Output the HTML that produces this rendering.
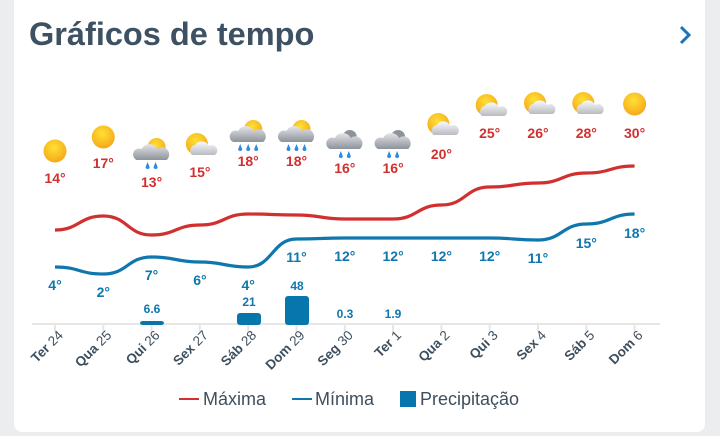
<!DOCTYPE html>
<html><head><meta charset="utf-8"><style>
html,body{margin:0;padding:0;background:#ebedef;width:720px;height:436px;overflow:hidden;font-family:"Liberation Sans",sans-serif}
.card{position:absolute;left:14px;top:-10px;width:691px;height:442px;background:#fff;border-radius:8px}
svg{position:absolute;left:0;top:0}
</style></head><body>
<div class="card"></div>
<svg width="720" height="436" xmlns="http://www.w3.org/2000/svg">
<defs>
<radialGradient id="sun" cx="45%" cy="35%" r="65%"><stop offset="0" stop-color="#ffe034"/><stop offset="1" stop-color="#f5a91a"/></radialGradient>
<linearGradient id="cl" x1="0" y1="0" x2="0" y2="1"><stop offset="0" stop-color="#fafafa"/><stop offset="1" stop-color="#b9bcc2"/></linearGradient>
<linearGradient id="dc" x1="0" y1="0" x2="0" y2="1"><stop offset="0" stop-color="#e4e5e8"/><stop offset="1" stop-color="#8e939b"/></linearGradient>
</defs>
<text x="29" y="45" font-size="32.5" font-weight="bold" fill="#3d5163">Gráficos de tempo</text>
<path d="M681 27 L689 35 L681 43" stroke="#1b74b8" stroke-width="3" fill="none"/>
<g id="icons"></g>
<line x1="32" y1="324" x2="660" y2="324" stroke="#e6e6e6" stroke-width="2"/>
<g id="ticks"></g>
<path id="maxp" stroke="#d22f2f" stroke-width="3.2" fill="none"/>
<path id="minp" stroke="#0f77ad" stroke-width="3.2" fill="none"/>
<g font-size="13" font-weight="bold" fill="#0f77ad" text-anchor="middle">
<rect x="140" y="321" width="24" height="4" rx="3" fill="#0676ad"/>
<rect x="237" y="313" width="24" height="12" rx="3" fill="#0676ad"/>
<rect x="285" y="296" width="24" height="29" rx="3" fill="#0676ad"/>
<text x="152" y="313" font-size="12">6.6</text>
<text x="249" y="306" font-size="12">21</text>
<text x="297" y="290" font-size="12">48</text>
<text x="345" y="318" font-size="12">0.3</text>
<text x="393" y="318" font-size="12">1.9</text>
</g>
<g id="lbl" font-size="14" font-weight="bold" text-anchor="middle"></g>
<g font-size="18" fill="#3d4f5f">
<line x1="179" y1="399" x2="199" y2="399" stroke="#d22f2f" stroke-width="2"/>
<text x="203" y="405">Máxima</text>
<line x1="292" y1="399" x2="312" y2="399" stroke="#0f77ad" stroke-width="2"/>
<text x="315" y="405">Mínima</text>
<rect x="400" y="391" width="16" height="16" fill="#0676ad"/>
<text x="420" y="405">Precipitação</text>
</g>
</svg>
<script>
const X=i=>55+i*48.3;
const days=["Ter 24","Qua 25","Qui 26","Sex 27","Sáb 28","Dom 29","Seg 30","Ter 1","Qua 2","Qui 3","Sex 4","Sáb 5","Dom 6"];
const maxY=[230,216,235,225,214,215,219,219,205,187,183,173,166];
const minY=[267,274,257,262,267,239,238,238,238,238,240,224,214];
const maxT=[14,17,13,15,18,18,16,16,20,25,26,28,30];
const maxL=[183,168,187,177,166,166,173,173,159,138,138,138,138];
const minT=[4,2,7,6,4,11,12,12,12,12,11,15,18];
const minL=[290,297,280,285,290,262,261,261,261,261,263,248,238];
const icon=["s","s","r","p","R","R","c","c","p","p","p","p","s"];
const iy=[151,137,153,146,135,135,142,142,126,107,105,105,104];
function path(ys){let d=`M${X(0)} ${ys[0]}`;for(let i=0;i<ys.length-1;i++){const a=X(i),b=X(i+1),m=(b-a)/2;d+=` C${a+m} ${ys[i]} ${b-m} ${ys[i+1]} ${b} ${ys[i+1]}`}return d}
document.getElementById('maxp').setAttribute('d',path(maxY));
document.getElementById('minp').setAttribute('d',path(minY));
let t='',l='',ic='';
days.forEach((d,i)=>{const x=X(i);const [a,b]=d.split(' ');
t+=`<line x1="${x}" y1="324" x2="${x}" y2="332" stroke="#e6e6e6" stroke-width="2"/>`;
t+=`<text transform="translate(${x+9},${336}) rotate(-45)" text-anchor="end" font-size="13.5" fill="#3d4f5f"><tspan font-weight="bold">${a}</tspan> ${b}</text>`;
l+=`<text x="${x}" y="${maxL[i]}" fill="#d22f2f">${maxT[i]}°</text><text x="${x}" y="${minL[i]}" fill="#0f77ad">${minT[i]}°</text>`;
const y=iy[i],k=icon[i];
if(k=="s")ic+=`<circle cx="${x}" cy="${y}" r="11.5" fill="url(#sun)"/>`;
else if(k=="p")ic+=`<circle cx="${x-3}" cy="${y-2}" r="11" fill="url(#sun)"/><path d="M${x-8} ${y+9} a6 6 0 0 1 3-10 a8 8 0 0 1 14 1 a5 5 0 0 1 6 9 z" fill="url(#cl)"/>`;
else{const dark=k=="c";ic+=(dark?`<path d="M${x-2} ${y-5} a7 7 0 0 1 14 0 a5 5 0 0 1 2 8 h-14z" fill="#8e939b"/>`:`<circle cx="${x+5}" cy="${y-6}" r="9" fill="url(#sun)"/>`)+
`<path d="M${x-15} ${y+7} a6 6 0 0 1 5-11 a9 9 0 0 1 16 0 a6 6 0 0 1 9 11 z" fill="url(#dc)"/>`;
const n=k=="R"?3:2;for(let j=0;j<n;j++){const dx=x-(n-1)*4+j*8;ic+=`<path d="M${dx} ${y+9} l-2 5 a2 2 0 0 0 4 0z" fill="#2d8ce0"/>`}}
});
document.getElementById('ticks').innerHTML=t;
document.getElementById('lbl').innerHTML=l;
document.getElementById('icons').innerHTML=ic;
</script>
</body></html>
